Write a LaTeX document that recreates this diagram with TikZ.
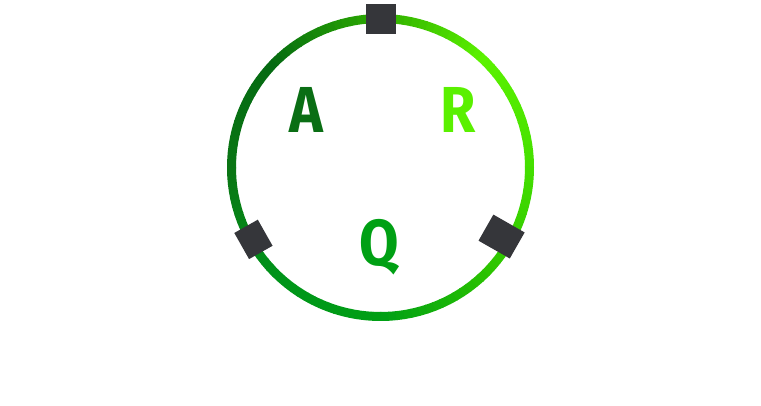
\documentclass[tikz,border=0pt]{standalone}
\usepackage{fontspec}
\newfontfamily\lblfont{Fira Sans}[FakeStretch=0.88]

\definecolor{ringE}{HTML}{45E000}
\definecolor{ringNE}{HTML}{5CF200}
\definecolor{ringN}{HTML}{2CAA00}
\definecolor{ringNW}{HTML}{056A12}
\definecolor{ringW}{HTML}{0A7614}
\definecolor{ringSW}{HTML}{00941A}
\definecolor{ringS}{HTML}{00A014}
\definecolor{ringSE}{HTML}{2CC400}
\definecolor{portgray}{HTML}{35363A}
\definecolor{textA}{HTML}{0A6E14}
\definecolor{textR}{HTML}{5AF000}
\definecolor{textQ}{HTML}{00A014}

\begin{document}
\begin{tikzpicture}[x=1pt,y=1pt,
  port/.style={fill=portgray, inner sep=0pt, anchor=center},
  lbl/.style={font=\lblfont\bfseries\fontsize{65}{65}\selectfont, inner sep=0pt, anchor=base}]

  \useasboundingbox (0,0) rectangle (761,406);

  % Centre and radius of the ring
  \def\cx{380.5}
  \def\cy{238.5}
  \def\rad{149}
  \coordinate (c) at (\cx,\cy);

  % Draw the ring, one short arc per step
  \foreach \a/\ca/\cb in {0/ringE/ringNE, 45/ringNE/ringN, 90/ringN/ringNW, 135/ringNW/ringW,
                          180/ringW/ringSW, 225/ringSW/ringS, 270/ringS/ringSE, 315/ringSE/ringE} {
    \foreach \k in {0,...,14} {
      \pgfmathtruncatemacro\mixval{\k*100/15}
      \pgfmathsetmacro\ang{\a+3*\k}
      \draw[line width=9pt, color=\cb!\mixval!\ca] (c) ++(\ang:\rad) arc[start angle=\ang, end angle=\ang+3.3, radius=\rad];
    }
  }

  % Draw the three ports
  \node[port, minimum width=30pt, minimum height=30pt] (topport) at ([shift={(90:148.5)}]c) {};
  \node[port, minimum width=27pt, minimum height=30pt, rotate=209.5] (leftport) at ([shift={(209.5:146)}]c) {};
  \node[port, minimum width=36pt, minimum height=30pt, rotate=330.3] (rightport) at ([shift={(330.3:139.4)}]c) {};

  % Letters
  \node[lbl, text=textA] (labelA) at (306,273) {A};
  \node[lbl, text=textR] (labelR) at (458,273) {R};
  \node[lbl, text=textQ] (labelQ) at (379,140) {Q};

\end{tikzpicture}
\end{document}
